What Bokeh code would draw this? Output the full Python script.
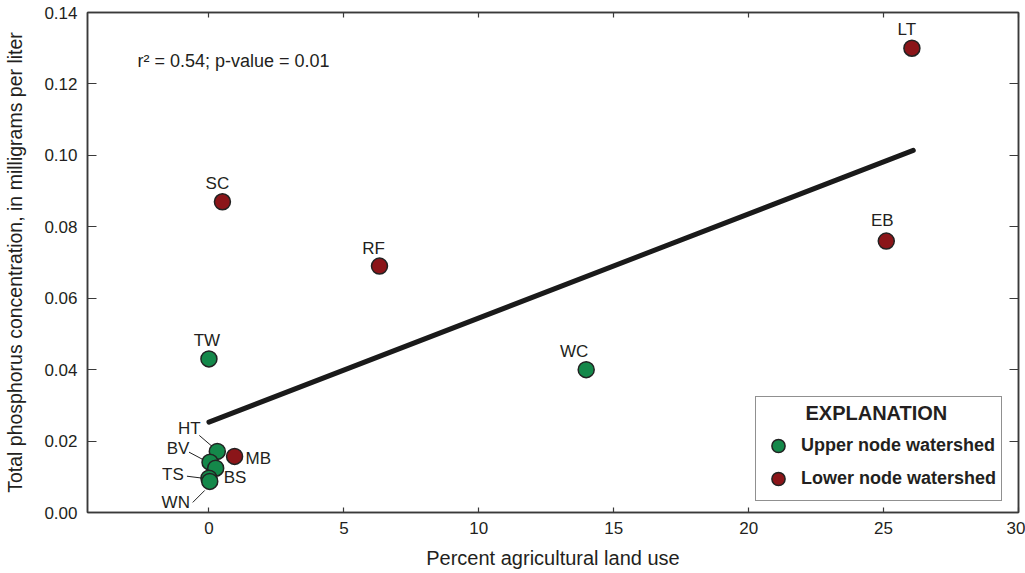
from bokeh.plotting import figure
from bokeh.models import (Range1d, Label, Legend, LegendItem, LinearAxis,
                          FixedTicker, NumeralTickFormatter)
from bokeh.core.properties import value
from bokeh.embed import file_html
from bokeh.resources import INLINE

# Sampling sites: percent agricultural land use vs. total phosphorus (mg/L)
site = ["LT", "EB", "SC", "RF", "WC", "TW", "MB", "HT", "BV", "BS", "TS", "WN"]
ag_pct = [26.05, 25.1, 0.5, 6.32, 13.98, 0.0, 0.95, 0.31, 0.04, 0.25, 0.0, 0.03]
tp_mgl = [0.130, 0.076, 0.087, 0.069, 0.040, 0.043, 0.0157, 0.0171, 0.0141,
          0.0124, 0.0096, 0.0087]
node = ["Lower", "Lower", "Lower", "Lower", "Upper", "Upper", "Lower", "Upper",
        "Upper", "Upper", "Upper", "Upper"]

# Linear regression line endpoints
fit_x = [0.0, 26.1]
fit_y = [0.0253, 0.1014]

x_ticks = [0, 5, 10, 15, 20, 25, 30]
y_ticks = [0.00, 0.02, 0.04, 0.06, 0.08, 0.10, 0.12, 0.14]

FONT = "Liberation Sans"
TXT = "#231f20"
GREEN = "#14884a"
RED = "#8b1519"
EDGE = "#222222"
AXIS = "#3a3a3a"

X0, X1 = -4.5, 30.0
Y0, Y1 = 0.0, 0.14
FRAME_W, FRAME_H = 931, 500
px_x = FRAME_W / (X1 - X0)
px_y = FRAME_H / (Y1 - Y0)

p = figure(width=1025, height=573, output_backend="svg", toolbar_location=None,
           x_range=Range1d(X0, X1), y_range=Range1d(Y0, Y1),
           min_border_left=87, min_border_right=7, min_border_top=12,
           min_border_bottom=61, background_fill_color="white")
p.grid.visible = False
p.outline_line_color = AXIS
p.outline_line_width = 1.5

for ax in p.xaxis:
    ax.ticker = FixedTicker(ticks=x_ticks)
    ax.axis_label = "Percent agricultural land use"
    ax.major_tick_in = 5
    ax.major_label_standoff = 9
    ax.axis_label_standoff = 10
    ax.axis_label_text_font_size = "20px"
for ax in p.yaxis:
    ax.ticker = FixedTicker(ticks=y_ticks)
    ax.formatter = NumeralTickFormatter(format="0.00")
    ax.axis_label = "Total phosphorus concentration, in milligrams per liter"
    ax.major_tick_in = 9
    ax.major_label_standoff = 10
    ax.axis_label_standoff = 15
    ax.axis_label_text_font_size = "19.5px"

for ax in list(p.xaxis) + list(p.yaxis):
    ax.major_tick_out = 0
    ax.minor_tick_line_color = None
    ax.axis_line_color = AXIS
    ax.axis_line_width = 1.5
    ax.major_tick_line_color = AXIS
    ax.major_tick_line_width = 1.2
    ax.major_label_text_font = FONT
    ax.major_label_text_font_size = "17px"
    ax.major_label_text_color = TXT
    ax.axis_label_text_font = FONT
    ax.axis_label_text_font_style = "normal"
    ax.axis_label_text_color = TXT

# mirrored ticks on the top and right edges, without labels
common = dict(major_tick_out=0, minor_tick_line_color=None,
              major_label_text_color=None, major_label_text_font_size="1px",
              major_label_standoff=0,
              axis_line_color=AXIS, axis_line_width=1.5,
              major_tick_line_color=AXIS, major_tick_line_width=1.2)
p.add_layout(LinearAxis(ticker=FixedTicker(ticks=x_ticks), major_tick_in=5, **common), "above")
p.add_layout(LinearAxis(ticker=FixedTicker(ticks=y_ticks), major_tick_in=9, **common), "right")

# regression line
p.line(fit_x, fit_y, line_color="#1a1a1a", line_width=5, line_cap="round")

# leader lines for the crowded sites near zero (screen-pixel offsets)
leaders = {"HT": (-18, -16, -4, -4), "BV": (-21, -10, -4, -1),
           "TS": (-22, -2, -6, 0), "WN": (-17, 21, -5, 9)}
lx0, ly0, lx1, ly1 = [], [], [], []
for s, (a, b, c, d) in leaders.items():
    i = site.index(s)
    lx0.append(ag_pct[i] + a / px_x)
    ly0.append(tp_mgl[i] - b / px_y)
    lx1.append(ag_pct[i] + c / px_x)
    ly1.append(tp_mgl[i] - d / px_y)
p.segment(lx0, ly0, lx1, ly1, line_color="#222222", line_width=1)

# points
renderers = {}
for grp, col in (("Upper", GREEN), ("Lower", RED)):
    xs = [x for x, g in zip(ag_pct, node) if g == grp]
    ys = [y for y, g in zip(tp_mgl, node) if g == grp]
    renderers[grp] = p.scatter(xs, ys, size=16, fill_color=col,
                               line_color=EDGE, line_width=1.5)

# site labels (offsets in screen pixels, positive dy = down)
label_pos = {
    "LT": (-5, -19, "center"), "EB": (-4, -21, "center"), "SC": (-5, -18, "center"),
    "RF": (-6, -18, "center"), "WC": (-12, -18, "center"), "TW": (-2, -18, "center"),
    "MB": (11, 2, "left"), "HT": (-28, -23, "center"), "BV": (-32, -14, "center"),
    "BS": (8, 9, "left"), "TS": (-36, -4, "center"), "WN": (-34, 21, "center"),
}
for align in ("center", "left"):
    idx = [i for i, s in enumerate(site) if label_pos[s][2] == align]
    p.text([ag_pct[i] for i in idx], [tp_mgl[i] for i in idx],
           text=[site[i] for i in idx],
           x_offset=[label_pos[site[i]][0] for i in idx],
           y_offset=[label_pos[site[i]][1] for i in idx],
           text_align=align, text_baseline="middle",
           text_font=value(FONT), text_font_size="17px", text_color=TXT)

p.add_layout(Label(x=-2.65, y=0.1263, text="r² = 0.54; p-value = 0.01",
                   text_font=FONT, text_font_size="18px", text_color=TXT,
                   text_baseline="middle"))

NBSP = "\u00a0"
legend = Legend(items=[LegendItem(label="Upper node watershed", renderers=[renderers["Upper"]]),
                       LegendItem(label="Lower node watershed", renderers=[renderers["Lower"]])],
                location=(668, 11), title=NBSP * 8 + "EXPLANATION",
                title_text_font=FONT, title_text_font_size="20px",
                title_text_font_style="bold", title_text_color=TXT,
                title_standoff=4,
                label_text_font=FONT, label_text_font_size="18px",
                label_text_font_style="bold", label_text_color=TXT,
                border_line_color="#222222", border_line_width=1.5,
                glyph_width=34, glyph_height=33, label_standoff=6,
                spacing=0, padding=5, margin=0)
p.add_layout(legend)

open("out.html", "w").write(file_html(p, INLINE))
